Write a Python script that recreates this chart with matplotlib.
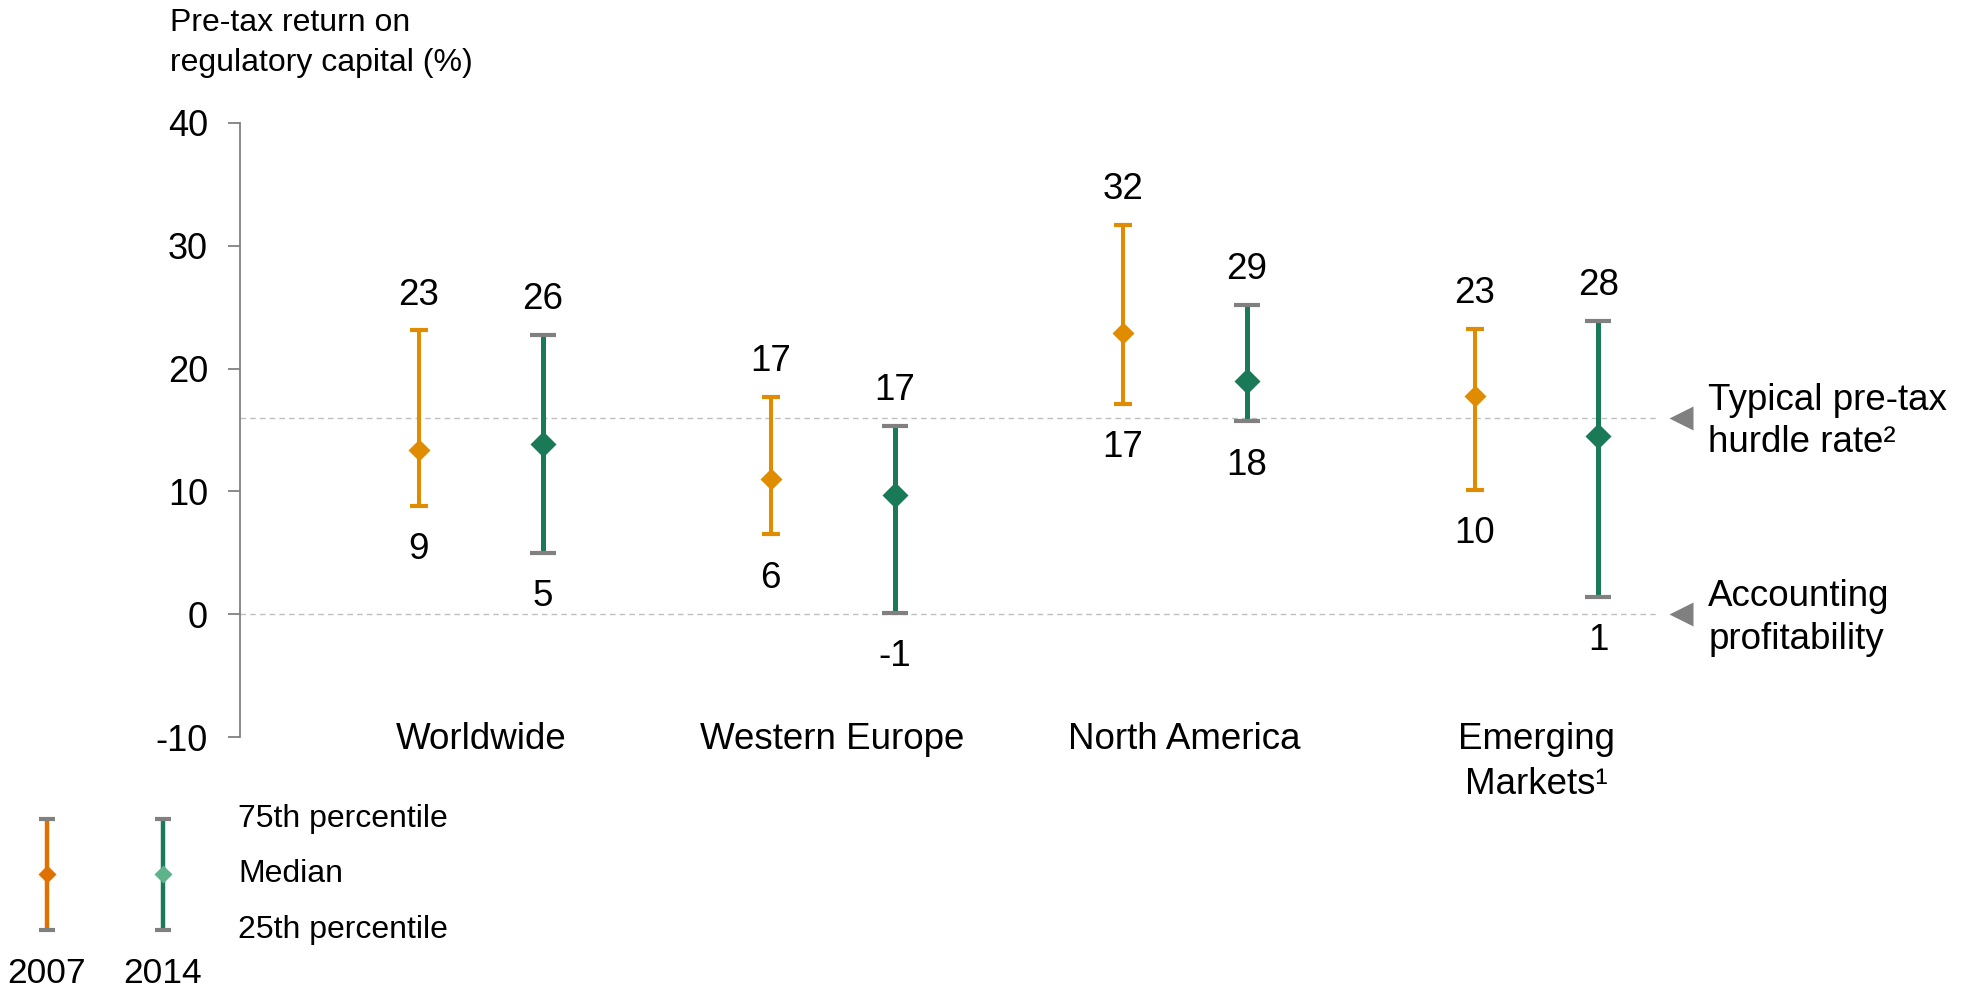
# Pre-tax return on regulatory capital, 2007 vs 2014, by region
import numpy as np
import matplotlib.pyplot as plt

plt.rcParams['font.family'] = ['Liberation Sans', 'DejaVu Sans']
plt.rcParams['axes.unicode_minus'] = False

# date
regiuni = ['Worldwide', 'Western Europe', 'North America', 'Emerging\nMarkets\u00b9']
ani = ['2007', '2014']

# pozitia desenata (percentile 25 / mediana / 75)
p25_2007 = [8.8, 6.5, 17.1, 10.1]
med_2007 = [13.4, 11.0, 22.9, 17.8]
p75_2007 = [23.1, 17.7, 31.7, 23.2]

p25_2014 = [5.0, 0.1, 15.7, 1.4]
med_2014 = [13.9, 9.7, 19.0, 14.5]
p75_2014 = [22.7, 15.3, 25.2, 23.9]

# etichetele scrise pe grafic
et_sus_2007 = ['23', '17', '32', '23']
et_jos_2007 = ['9', '6', '17', '10']
et_sus_2014 = ['26', '17', '29', '28']
et_jos_2014 = ['5', '-1', '18', '1']

prag = 16      # typical pre-tax hurdle rate
zero = 0       # accounting profitability

portocaliu = '#E08C00'
verde = '#1A7A58'
gri = '#808080'
fs = 26.5

fig = plt.figure(figsize=(19.74, 9.86), dpi=100)
ax = fig.add_axes([0.1216, 0.2522, 0.8406 - 0.1216, 0.8756 - 0.2522])

x = np.arange(len(regiuni))
dx = 0.176


def desen(xs, p25, med, p75, culoare, cap_col, lw, cs, ms):
    med = np.array(med)
    err = [med - np.array(p25), np.array(p75) - med]
    _, caps, _ = ax.errorbar(xs, med, yerr=err, fmt='none', ecolor=culoare,
                             elinewidth=lw, capsize=cs, capthick=3, zorder=3)
    for c in caps:
        c.set_color(cap_col)
        c.set_markeredgecolor(cap_col)
    ax.plot(xs, med, 'D', color=culoare, ms=ms, mec='none', zorder=4)


desen(x - dx, p25_2007, med_2007, p75_2007, portocaliu, portocaliu, 2.9, 6.5, 11.2)
desen(x + dx, p25_2014, med_2014, p75_2014, verde, gri, 3.6, 9.4, 13.2)

for i in range(len(regiuni)):
    ax.annotate(et_sus_2007[i], (x[i] - dx, p75_2007[i]), xytext=(0, 25.5),
                textcoords='offset points', ha='center', va='center', fontsize=fs)
    ax.annotate(et_jos_2007[i], (x[i] - dx, p25_2007[i]), xytext=(0, -31.5),
                textcoords='offset points', ha='center', va='center', fontsize=fs)
    ax.annotate(et_sus_2014[i], (x[i] + dx, p75_2014[i]), xytext=(0, 25.5),
                textcoords='offset points', ha='center', va='center', fontsize=fs)
    ax.annotate(et_jos_2014[i], (x[i] + dx, p25_2014[i]), xytext=(0, -31.5),
                textcoords='offset points', ha='center', va='center', fontsize=fs)
    ax.text(x[i], -8.75, regiuni[i], ha='center', va='top', fontsize=fs,
            linespacing=1.38)

# linii de referinta
for yy in [prag, zero]:
    ax.axhline(yy, color='#BFBFBF', lw=1, ls=(0, (4, 3)), zorder=1)
    ax.plot(1.0155, yy, '<', color=gri, ms=17, mec='none',
            transform=ax.get_yaxis_transform(), clip_on=False)
ax.text(1.0345, prag - 0.3, 'Typical pre-tax\nhurdle rate\u00b2', transform=ax.get_yaxis_transform(),
        ha='left', va='center', fontsize=fs, linespacing=1.28)
ax.text(1.0345, zero - 0.3, 'Accounting\nprofitability', transform=ax.get_yaxis_transform(),
        ha='left', va='center', fontsize=fs, linespacing=1.28)

ax.set_xlim(-0.684, 3.349)
ax.set_ylim(-10, 40)
ax.set_yticks([-10, 0, 10, 20, 30, 40])
ax.tick_params(axis='y', length=8.6, width=1.3, color=gri, pad=14.4, labelsize=26)
ax.set_xticks([])
for s in ['top', 'right', 'bottom']:
    ax.spines[s].set_visible(False)
ax.spines['left'].set_color(gri)
ax.spines['left'].set_linewidth(1.3)
ax.patch.set_alpha(0)

fig.text(170 / 1974, 1 - 8 / 986, 'Pre-tax return on\nregulatory capital (%)',
         ha='left', va='top', fontsize=23, linespacing=1.45)

# legenda (percentile)
lax = fig.add_axes([0.0003, 0.0568, 0.1763, 0.1126])
lax.set_xlim(-0.4, 2.6)
lax.set_ylim(25, 75)
lax.axis('off')
leg_linie = ['#E07000', verde]
leg_romb = ['#E07000', '#5DB38A']
for j in range(2):
    _, caps, _ = lax.errorbar([j], [50], yerr=[[25], [25]], fmt='none', ecolor=leg_linie[j],
                              elinewidth=3.2, capsize=6, capthick=3)
    for c in caps:
        c.set_color(gri)
        c.set_markeredgecolor(gri)
        c.set_clip_on(False)
    lax.plot([j], [50], 'D', color=leg_romb[j], ms=9.2, mec='none', clip_on=False)
    lax.text(j, 5.6, ani[j], ha='center', va='center', fontsize=25.5)
for yy, t in zip([75, 50, 25], ['75th percentile', 'Median', '25th percentile']):
    lax.text(1.647, yy, t, ha='left', va='center', fontsize=23)

fig.savefig('out.png', dpi=100)
